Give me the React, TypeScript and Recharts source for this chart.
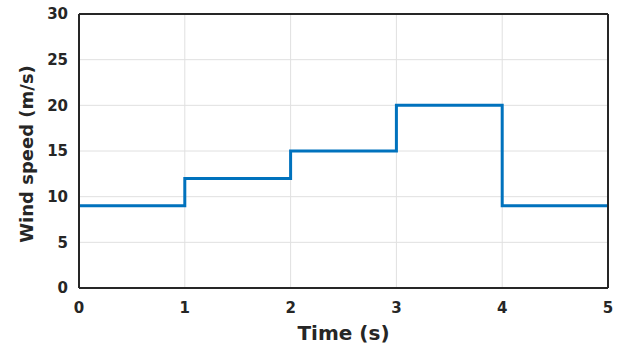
import React from 'react';
import { LineChart, Line, XAxis, YAxis, CartesianGrid, Label } from 'recharts';

// step input: wind speed held constant for each second
const times = [0, 1, 2, 3, 4, 5];
const windSpeed = [9, 12, 15, 20, 9, 9];
const xTicks = [0, 1, 2, 3, 4, 5];
const yTicks = [0, 5, 10, 15, 20, 25, 30];

const data = times.map((t, i) => ({ t, v: windSpeed[i] }));

const AXIS = '#262626';
const FONT = '"DejaVu Sans", Arial, sans-serif';

const tickStyle = { fill: AXIS, fontSize: 15, fontWeight: 700, fontFamily: FONT };
const boxLine = { stroke: AXIS, strokeWidth: 2 };
const innerTick = { stroke: AXIS, strokeWidth: 1.5 };

const XLabel = (props: any) => {
  const { viewBox } = props;
  return (
    <text
      x={viewBox.x + viewBox.width / 2}
      y={340}
      textAnchor="middle"
      fill={AXIS}
      fontSize={20}
      fontWeight={700}
      fontFamily={FONT}
    >
      Time (s)
    </text>
  );
};

const YLabel = (props: any) => {
  const { viewBox } = props;
  const cx = 33;
  const cy = viewBox.y + viewBox.height / 2 + 3;
  return (
    <text
      x={cx}
      y={cy}
      transform={`rotate(-90 ${cx} ${cy})`}
      textAnchor="middle"
      fill={AXIS}
      fontSize={18}
      fontWeight={700}
      fontFamily={FONT}
    >
      Wind speed (m/s)
    </text>
  );
};

export default function App() {
  return (
    <div style={{ position: 'absolute', left: 0, top: 0, width: 625, height: 347, background: '#fff' }}>
      <LineChart width={625} height={347} data={data} margin={{ top: 14, right: 17, bottom: 0, left: 0 }}>
        <CartesianGrid xAxisId="bottom" yAxisId="left" stroke="#e0e0e0" strokeWidth={1} />
        {/* labelled axes */}
        <XAxis
          xAxisId="bottom"
          dataKey="t"
          type="number"
          domain={[0, 5]}
          ticks={xTicks}
          height={59}
          tickSize={0}
          tickMargin={14}
          axisLine={false}
          tickLine={false}
          tick={tickStyle}
          interval={0}
        >
          <Label content={<XLabel />} />
        </XAxis>
        <YAxis
          yAxisId="left"
          type="number"
          domain={[0, 30]}
          ticks={yTicks}
          width={79}
          tickSize={0}
          tickMargin={11}
          axisLine={false}
          tickLine={false}
          tick={tickStyle}
          interval={0}
        >
          <Label content={<YLabel />} />
        </YAxis>
        {/* box with inward ticks */}
        <XAxis xAxisId="bTicks" orientation="bottom" mirror dataKey="t" type="number" domain={[0, 5]} ticks={xTicks}
          height={1} tickSize={5} axisLine={boxLine} tickLine={innerTick} tick={false} interval={0} />
        <XAxis xAxisId="top" orientation="top" mirror dataKey="t" type="number" domain={[0, 5]} ticks={xTicks}
          height={1} tickSize={5} axisLine={boxLine} tickLine={innerTick} tick={false} interval={0} />
        <YAxis yAxisId="lTicks" orientation="left" mirror type="number" domain={[0, 30]} ticks={yTicks}
          width={1} tickSize={5} axisLine={boxLine} tickLine={innerTick} tick={false} interval={0} />
        <YAxis yAxisId="right" orientation="right" mirror type="number" domain={[0, 30]} ticks={yTicks}
          width={1} tickSize={5} axisLine={boxLine} tickLine={innerTick} tick={false} interval={0} />
        <Line xAxisId="bTicks" yAxisId="lTicks" dataKey="v" stroke="none" dot={false} isAnimationActive={false} />
        <Line xAxisId="top" yAxisId="right" dataKey="v" stroke="none" dot={false} isAnimationActive={false} />
        <Line
          xAxisId="bottom"
          yAxisId="left"
          type="stepAfter"
          dataKey="v"
          stroke="#0072BD"
          strokeWidth={3}
          dot={false}
          isAnimationActive={false}
        />
      </LineChart>
    </div>
  );
}
